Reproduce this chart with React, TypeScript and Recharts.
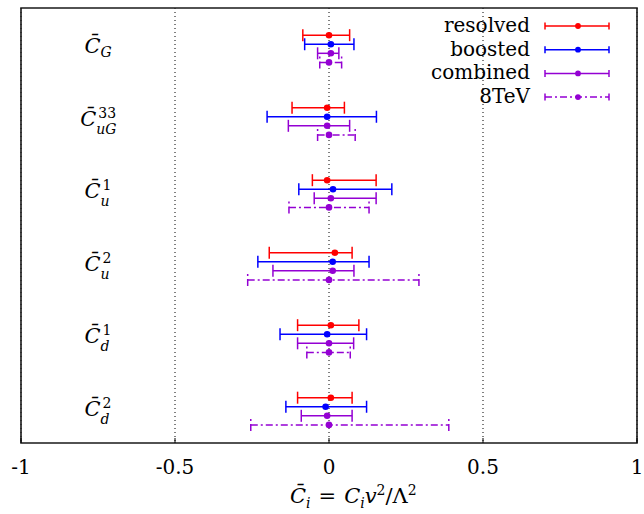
import React from "react";
import {
  ScatterChart,
  Scatter,
  XAxis,
  YAxis,
  ErrorBar,
  CartesianGrid,
  ReferenceArea,
  Legend,
} from "recharts";

const FONT = '"DejaVu Serif", "Liberation Serif", serif';

// Coefficient labels (C-bar with subscript / superscript)
const labelSub = ["G", "uG", "u", "u", "d", "d"];
const labelSup = ["", "33", "1", "2", "1", "2"];

// X axis ticks
const xTicks = [-1, -0.5, 0, 0.5, 1];
const xTickLabels = ["-1", "-0.5", "0", "0.5", "1"];

// Series: best-fit value and lower/upper bounds for each coefficient
const resolvedCenter = [0, -0.006, -0.006, 0.019, 0.006, 0.006];
const resolvedLow = [-0.085, -0.12, -0.054, -0.194, -0.102, -0.102];
const resolvedHigh = [0.067, 0.05, 0.153, 0.075, 0.097, 0.075];

const boostedCenter = [0.006, -0.006, 0.013, 0.012, -0.006, -0.011];
const boostedLow = [-0.079, -0.201, -0.098, -0.231, -0.159, -0.14];
const boostedHigh = [0.081, 0.154, 0.204, 0.13, 0.122, 0.122];

const combinedCenter = [0.006, -0.006, 0.006, 0.012, 0, -0.006];
const combinedLow = [-0.037, -0.132, -0.048, -0.182, -0.102, -0.09];
const combinedHigh = [0.032, 0.067, 0.153, 0.081, 0.08, 0.075];

const tevCenter = [0, 0, 0, 0, 0, 0];
const tevLow = [-0.03, -0.037, -0.13, -0.264, -0.072, -0.254];
const tevHigh = [0.041, 0.085, 0.13, 0.292, 0.069, 0.389];

const seriesNames = ["resolved", "boosted", "combined", "8TeV"];
const seriesColors = ["#ff0000", "#0000ff", "#9400d3", "#9400d3"];
const seriesDash = ["", "", "", "7 3 2 3"];

const GROUP_STEP = 8;
const GROUP_START = 3;

function build(center: number[], low: number[], high: number[], k: number) {
  return center.map((c, g) => ({
    x: c,
    y: GROUP_START + GROUP_STEP * g + k,
    err: [c - low[g], high[g] - c],
  }));
}

const seriesData = [
  build(resolvedCenter, resolvedLow, resolvedHigh, 0),
  build(boostedCenter, boostedLow, boostedHigh, 1),
  build(combinedCenter, combinedLow, combinedHigh, 2),
  build(tevCenter, tevLow, tevHigh, 3),
];

const labelTicks = labelSub.map((_, g) => GROUP_START + GROUP_STEP * g + 2);

const subCharW: Record<string, number> = { u: 0.6, G: 0.75, d: 0.6 };

const txt = (size: number, italic = false): React.CSSProperties => ({
  fontFamily: FONT,
  fontSize: size,
  fontStyle: italic ? "italic" : "normal",
});

const BASE = 20;
const SMALL = 14;

const CategoryTick = (props: any) => {
  const { x, y, payload } = props;
  const g = Math.round((payload.value - GROUP_START - 2) / GROUP_STEP);
  const sub = labelSub[g];
  const sup = labelSup[g];
  const cW = 15.5;
  const subW = sub.split("").reduce((s, ch) => s + (subCharW[ch] || 0.6) * SMALL, 0);
  const supW = sup.length * 0.6 * SMALL;
  const total = cW + 1 + Math.max(subW, supW + 2);
  const left = x + 77 - total / 2;
  const subBase = sup ? 8 : 4;
  return (
    <g>
      <text x={left} y={y} style={txt(BASE + 1, true)} fill="#000">
        {"C\u0304"}
      </text>
      <text x={left + cW + 0.5} y={y + subBase} style={txt(SMALL, true)} fill="#000">
        {sub}
      </text>
      {sup ? (
        <text x={left + cW + 2.5} y={y - 8} style={txt(SMALL)} fill="#000">
          {sup}
        </text>
      ) : null}
    </g>
  );
};

const XTick = (props: any) => {
  const { x, y, payload } = props;
  const idx = xTicks.indexOf(payload.value);
  return (
    <text x={x} y={y + 36} textAnchor="middle" style={txt(BASE)} fill="#000">
      {idx >= 0 ? xTickLabels[idx] : String(payload.value)}
    </text>
  );
};

const AxisTitle = (props: any) => {
  const vb = props.viewBox || { x: 0, y: 0, width: 0, height: 0 };
  const sx = vb.x + vb.width / 2 - 39;
  const by = vb.y + 60;
  return (
    <text x={sx} y={by} style={txt(BASE + 1)} fill="#000">
      <tspan style={txt(BASE + 1, true)}>{"C\u0304"}</tspan>
      <tspan style={txt(SMALL, true)} dy={5}>i</tspan>
      <tspan dx={8} dy={-5}>=</tspan>
      <tspan dx={8} style={txt(BASE + 1, true)}>C</tspan>
      <tspan style={txt(SMALL, true)} dy={5}>i</tspan>
      <tspan style={txt(BASE + 1, true)} dy={-5}>v</tspan>
      <tspan style={txt(SMALL)} dy={-8}>2</tspan>
      <tspan dy={8}>/Λ</tspan>
      <tspan style={txt(SMALL)} dy={-8}>2</tspan>
    </text>
  );
};

const LegendContent = (props: any) => {
  const payload = ((props.payload || []) as any[])
    .slice()
    .sort((a, b) => seriesNames.indexOf(a.value) - seriesNames.indexOf(b.value));
  return (
    <svg width={224} height={115} style={{ display: "block" }}>
      {payload.map((entry, i) => {
        const idx = seriesNames.indexOf(entry.value);
        const color = seriesColors[idx];
        const dash = seriesDash[idx];
        const yc = 26 + 23.7 * i;
        return (
          <g key={i}>
            <text x={110} y={yc + 6} textAnchor="end" style={txt(BASE)} fill="#000">
              {entry.value}
            </text>
            <line x1={125} x2={189} y1={yc} y2={yc} stroke={color} strokeWidth={1.5} strokeDasharray={dash || undefined} />
            <line x1={125} x2={125} y1={yc - 3.5} y2={yc + 3.5} stroke={color} strokeWidth={1.5} />
            <line x1={189} x2={189} y1={yc - 3.5} y2={yc + 3.5} stroke={color} strokeWidth={1.5} />
            <circle cx={158} cy={yc} r={2.9} fill={color} />
          </g>
        );
      })}
    </svg>
  );
};

export default function App() {
  return (
    <div style={{ position: "absolute", left: 0, top: 0, width: 644, height: 514, background: "#fff" }}>
      <ScatterChart width={644} height={514} margin={{ top: 7, right: 7, left: 20, bottom: 0 }}>
        <CartesianGrid horizontal={false} stroke="#000" strokeDasharray="1 3" strokeWidth={1} />
        <XAxis
          type="number"
          dataKey="x"
          domain={[-1, 1]}
          ticks={xTicks}
          allowDataOverflow
          height={71}
          axisLine={false}
          tickSize={-5}
          tickMargin={0}
          tickLine={{ stroke: "#000", strokeWidth: 1 }}
          tick={<XTick />}
          label={<AxisTitle />}
        />
        <XAxis
          xAxisId="top"
          orientation="top"
          type="number"
          domain={[-1, 1]}
          ticks={xTicks}
          allowDataOverflow
          height={1}
          axisLine={false}
          tickSize={-5}
          tick={false}
          tickLine={{ stroke: "#000", strokeWidth: 1 }}
        />
        <YAxis
          type="number"
          dataKey="y"
          domain={[0, 48]}
          reversed
          allowDataOverflow
          width={1}
          ticks={labelTicks}
          axisLine={false}
          tickLine={false}
          tickSize={0}
          tickMargin={0}
          tick={<CategoryTick />}
        />
        <ReferenceArea x1={-1} x2={1} y1={0} y2={48} fill="none" stroke="#1a1a1a" strokeWidth={1.6} ifOverflow="visible" />
        {seriesData.map((data, i) => (
          <Scatter
            key={seriesNames[i]}
            name={seriesNames[i]}
            data={data}
            fill={seriesColors[i]}
            isAnimationActive={false}
            shape={(p: any) => <circle cx={p.cx} cy={p.cy} r={3.3} fill={seriesColors[i]} />}
          >
            <ErrorBar
              dataKey="err"
              direction="x"
              width={6}
              stroke={seriesColors[i]}
              strokeWidth={1.5}
              strokeDasharray={seriesDash[i] || undefined}
              isAnimationActive={false}
            />
          </Scatter>
        ))}
        <Legend
          layout="vertical"
          align="center"
          verticalAlign="middle"
          itemSorter={null as any}
          content={<LegendContent />}
          wrapperStyle={{ position: "absolute", left: 420, top: 0, width: 224, height: 115 }}
        />
      </ScatterChart>
    </div>
  );
}
